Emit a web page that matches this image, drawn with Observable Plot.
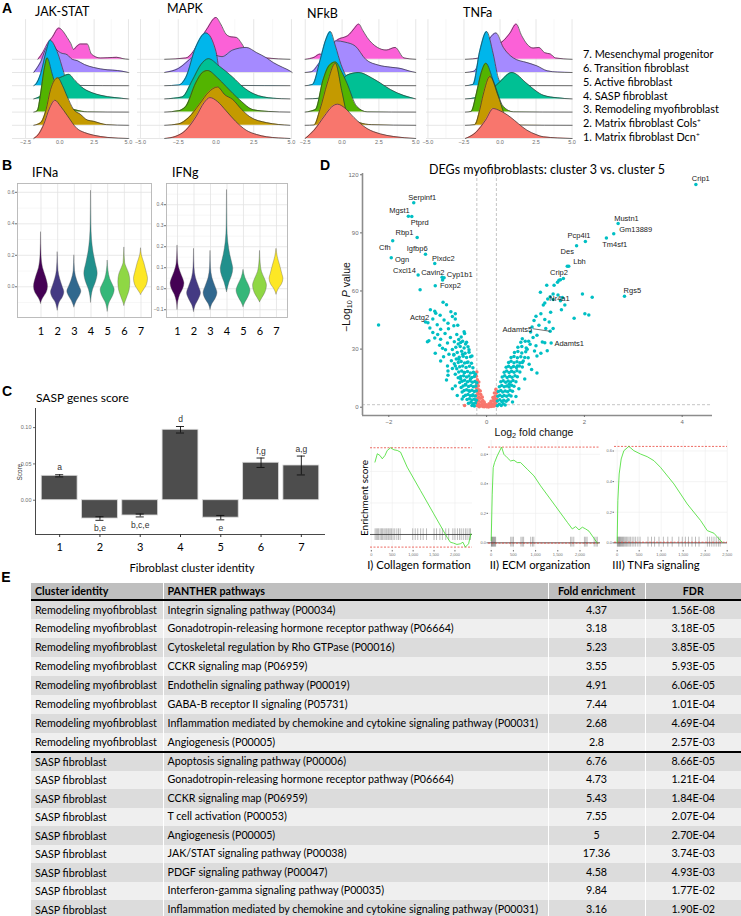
<!DOCTYPE html>
<html><head><meta charset="utf-8">
<script src="https://cdn.jsdelivr.net/npm/d3@7"></script>
<script src="https://cdn.jsdelivr.net/npm/@observablehq/plot@0.6"></script>
<style>
html,body{margin:0;padding:0;background:#fff;}
#root{position:relative;width:741px;height:916px;overflow:hidden;background:#fff;}
.t{position:absolute;white-space:nowrap;line-height:1;}
.t sup{font-size:0.6em;vertical-align:0.6em;line-height:0;}
.t sub{font-size:0.7em;vertical-align:-0.35em;line-height:0;}
table.e{position:absolute;left:31px;top:583px;width:710px;border-collapse:collapse;table-layout:fixed;font-family:Lato,sans-serif;font-size:10.7px;color:#000;}
table.e td{padding:0 0 0 4px;white-space:nowrap;overflow:hidden;border-left:1.5px solid #fff;line-height:1;}
table.e td:first-child{border-left:none;}
table.e td.c{text-align:center;padding:0;}
</style></head>
<body><div id="root"></div>
<script>
// ---------------- DATA ----------------
const clusterNames = ["1. Matrix fibroblast Dcn<sup>+</sup>","2. Matrix fibroblast Cols<sup>+</sup>","3. Remodeling myofibroblast","4. SASP fibroblast","5. Active fibroblast","6. Transition fibroblast","7. Mesenchymal progenitor"];
const ridgeColors = ["#F8766D","#C49A00","#53B400","#00C094","#00B6EB","#A58AFF","#FB61D7"];
const pathwayTitles = ["JAK-STAT","MAPK","NFkB","TNFa"];

// density ridges: per cluster 1..7, [score, density (row units)]
const jakStatDensity = [
 [[-1.9,0],[-1.5,0.4],[-1.16,1.1],[-0.75,2.3],[-0.36,2.9],[0.05,2.45],[0.53,1.76],[1.26,0.75],[1.8,0.45],[2.46,0.25],[3.5,0.08],[5,0]],
 [[-1.9,0],[-1.4,0.2],[-1.0,1.2],[-0.68,2.7],[-0.15,3.6],[0.2,3.0],[0.53,2.2],[1.0,1.2],[1.5,0.83],[2.0,0.4],[2.46,0.3],[3.4,0.05],[5,0]],
 [[-1.9,0],[-1.64,0.1],[-1.4,1.4],[-1.15,3.2],[-0.92,4.1],[-0.56,2.9],[-0.07,1.2],[0.53,0.43],[1.2,0.15],[2,0.02],[5,0]],
 [[-1.9,0],[-1.5,0.15],[-1.16,0.4],[-0.7,1.0],[-0.2,1.5],[0.2,1.7],[0.65,1.86],[1.1,1.4],[1.74,0.78],[2.4,0.45],[2.95,0.28],[4,0.1],[5,0]],
 [[-1.9,0],[-1.76,0.1],[-1.4,0.9],[-1.0,2.6],[-0.72,3.45],[-0.2,2.6],[0.29,1.0],[0.53,0.25],[1.26,0.02],[5,0]],
 [[-1.9,0],[-1.4,0.8],[-0.9,2.0],[-0.5,2.1],[-0.3,1.8],[0.05,1.5],[0.53,1.35],[0.9,1.0],[1.26,0.9],[1.8,0.6],[2.46,0.38],[3.5,0.2],[4.2,0.15],[5,0]],
 [[-1.6,0],[-1.2,0.6],[-0.9,1.2],[-0.56,1.66],[-0.07,2.37],[0.25,2.1],[0.53,1.66],[0.8,1.2],[1.0,0.75],[1.25,1.0],[1.5,1.16],[2.0,1.16],[2.3,0.4],[2.95,0.1],[3.5,0.12],[4.15,0.15],[4.6,0.05],[5,0]]
];
const mapkDensity = [
 [[-3.4,0],[-2.7,0.15],[-2.0,0.63],[-1.3,1.7],[-0.8,2.7],[-0.4,3.1],[0.1,2.8],[0.67,2.1],[1.3,1.3],[2.0,0.63],[2.7,0.3],[3.36,0.13],[4.9,0]],
 [[-3.4,0],[-2.5,0.1],[-1.8,0.6],[-1.1,1.6],[-0.5,2.5],[0.1,2.9],[0.6,2.3],[1.1,1.96],[1.7,1.2],[2.24,0.65],[3.36,0.2],[4.9,0]],
 [[-3.4,0],[-2.5,0.1],[-2.0,0.43],[-1.35,2.2],[-0.9,3.0],[-0.56,3.15],[0.1,2.6],[0.67,1.94],[1.57,0.93],[2.47,0.18],[3.5,0.05],[4.9,0]],
 [[-3.4,0],[-2.24,0.15],[-1.57,1.4],[-1.0,2.6],[-0.5,3.05],[0.2,2.5],[1.1,1.66],[1.8,0.9],[2.47,0.4],[3.8,0.05],[4.9,0]],
 [[-3.4,0],[-2.47,0.05],[-2.0,0.63],[-1.35,2.9],[-0.67,4.0],[0.0,2.6],[0.34,0.4],[1.1,0.2],[1.57,0.02],[4.9,0]],
 [[-3.4,0],[-2.5,0.3],[-1.5,1.2],[-0.8,1.6],[0.0,1.3],[0.4,1.2],[1.1,1.7],[2.0,1.9],[2.7,1.5],[3.36,1.1],[3.8,0.75],[4.4,0.4],[4.9,0.12],[5.05,0]],
 [[-3.4,0],[-2.0,0.1],[-1.5,0.6],[-1.1,1.4],[-0.6,2.3],[0.0,3.17],[0.3,2.7],[0.67,1.9],[1.0,1.7],[1.35,1.66],[1.7,1.2],[2.0,0.65],[2.7,0.3],[3.36,0.1],[4.9,0]]
];
const nfkbDensity = [
 [[-2.5,0],[-1.9,0.63],[-1.2,1.7],[-0.7,2.4],[-0.32,2.6],[0.2,2.3],[0.8,1.6],[1.7,0.75],[2.6,0.35],[3.5,0.15],[5,0]],
 [[-2.5,0],[-1.9,0.02],[-1.5,1.2],[-1.0,3.2],[-0.46,4.7],[0.0,2.5],[0.33,0.96],[1.2,0.2],[2.0,0.05],[5,0]],
 [[-2.5,0],[-1.8,0.2],[-1.3,2.4],[-0.9,3.5],[-0.46,3.8],[0.0,3.0],[0.33,2.2],[1.0,0.43],[1.7,0.02],[5,0]],
 [[-2.5,0],[-1.5,0.05],[-0.8,0.3],[-0.4,0.65],[0.33,1.8],[1.13,2.0],[2.0,1.6],[2.6,1.2],[3.3,0.7],[4.2,0.25],[5,0]],
 [[-2.5,0],[-2.0,0.1],[-1.5,1.9],[-1.1,3.5],[-0.8,4.1],[-0.45,3.0],[-0.07,1.6],[0.33,0.63],[1.0,0.02],[5,0]],
 [[-2.5,0],[-2.1,0.05],[-1.5,0.8],[-0.8,1.9],[-0.4,2.4],[0.2,2.3],[0.9,2.0],[1.6,1.0],[2.5,0.55],[3.3,0.4],[4.0,0.3],[4.6,0.1],[5,0]],
 [[-2.5,0],[-1.9,0.15],[-1.5,0.4],[-1.2,0.3],[-0.8,0.9],[-0.4,1.4],[0.5,1.9],[0.8,2.3],[1.13,2.67],[1.4,2.2],[1.7,1.66],[2.4,0.9],[3.0,0.7],[3.6,0.9],[4.2,0.1],[5,0]]
];
const tnfaDensity = [
 [[-2.4,0],[-1.64,0.5],[-1.0,1.4],[-0.47,2.27],[0.0,2.1],[0.7,1.64],[1.3,1.1],[1.87,0.63],[2.5,0.3],[3.0,0.13],[5,0]],
 [[-2.4,0],[-1.75,0.05],[-1.4,1.2],[-1.17,2.3],[-0.7,3.7],[-0.12,2.2],[0.47,0.45],[1.17,0.02],[5,0]],
 [[-2.4,0],[-2.0,0.05],[-1.64,1.4],[-1.3,3.0],[-0.98,3.7],[-0.47,2.4],[0.23,0.43],[0.93,0.02],[5,0]],
 [[-2.4,0],[-1.6,0.1],[-1.17,0.3],[-0.5,0.8],[0.0,1.3],[0.82,2.0],[1.87,1.16],[2.5,0.6],[3.0,0.28],[4.0,0.08],[5,0]],
 [[-2.4,0],[-1.87,0.1],[-1.4,2.65],[-0.93,4.1],[-0.47,2.4],[-0.12,0.6],[0.23,0.02],[5,0]],
 [[-2.4,0],[-1.8,0.1],[-1.2,1.5],[-0.7,2.6],[-0.28,3.0],[0.23,1.9],[0.93,1.1],[1.87,0.75],[2.57,0.5],[3.27,0.13],[4,0.03],[5,0]],
 [[-2.4,0],[-1.4,0.1],[-0.7,0.9],[0.23,1.4],[0.7,2.0],[1.12,2.67],[1.5,1.8],[1.87,1.16],[2.3,0.85],[2.7,0.9],[3.1,0.5],[3.5,0.4],[3.85,0.1],[5,0]]
];

// violins: per cluster 1..7, [score, half width]
const viridis7 = ["#440154","#443A83","#31688E","#21908C","#35B779","#8FD744","#FDE725"];
const ifnaViolins = [
 [[0.347,0],[0.2,0.03],[0.12,0.12],[0.06,0.3],[0.0,0.42],[-0.04,0.33],[-0.07,0.15],[-0.09,0.05],[-0.108,0]],
 [[0.22,0],[0.1,0.05],[0.05,0.15],[0.0,0.3],[-0.035,0.4],[-0.07,0.3],[-0.1,0.12],[-0.13,0.04],[-0.15,0]],
 [[0.2,0],[0.1,0.04],[0.04,0.17],[0.0,0.32],[-0.03,0.42],[-0.06,0.32],[-0.09,0.15],[-0.115,0.05],[-0.13,0]],
 [[0.61,0],[0.4,0.02],[0.3,0.06],[0.22,0.15],[0.15,0.28],[0.085,0.4],[0.03,0.3],[-0.02,0.12],[-0.06,0.04],[-0.1,0]],
 [[0.167,0],[0.1,0.05],[0.05,0.15],[0.01,0.32],[-0.02,0.42],[-0.06,0.32],[-0.1,0.12],[-0.13,0.04],[-0.157,0]],
 [[0.25,0],[0.15,0.05],[0.12,0.15],[0.08,0.3],[0.03,0.36],[-0.02,0.32],[-0.06,0.2],[-0.1,0.06],[-0.12,0]],
 [[0.245,0],[0.2,0.05],[0.15,0.2],[0.1,0.32],[0.05,0.42],[0.01,0.35],[-0.02,0.18],[-0.04,0.06],[-0.05,0]]
];
const ifngViolins = [
 [[0.206,0],[0.12,0.05],[0.08,0.18],[0.05,0.33],[0.025,0.42],[0.0,0.35],[-0.03,0.16],[-0.06,0.05],[-0.1,0]],
 [[0.19,0],[0.1,0.03],[0.05,0.12],[0.01,0.3],[-0.022,0.42],[-0.05,0.3],[-0.08,0.1],[-0.11,0]],
 [[0.18,0],[0.1,0.03],[0.05,0.12],[0.01,0.3],[-0.02,0.42],[-0.05,0.3],[-0.075,0.1],[-0.1,0]],
 [[0.47,0],[0.3,0.02],[0.22,0.08],[0.16,0.2],[0.12,0.32],[0.095,0.38],[0.06,0.3],[0.03,0.15],[0.0,0.05],[-0.016,0]],
 [[0.09,0],[0.05,0.12],[0.02,0.3],[-0.01,0.42],[-0.04,0.3],[-0.065,0.12],[-0.087,0]],
 [[0.18,0],[0.12,0.04],[0.08,0.12],[0.05,0.28],[0.015,0.42],[-0.02,0.32],[-0.045,0.14],[-0.064,0]],
 [[0.19,0],[0.15,0.08],[0.11,0.22],[0.07,0.35],[0.048,0.42],[0.02,0.33],[0.0,0.15],[-0.027,0]]
];

// SASP score bars
const saspCluster = [1,2,3,4,5,6,7];
const saspScore = [0.0336,-0.0252,-0.0210,0.0970,-0.0240,0.0516,0.0478];
const saspSE = [0.0015,0.0025,0.0020,0.0045,0.0030,0.0065,0.0130];
const saspLetters = ["a","b,e","b,c,e","d","e","f,g","a,g"];

// volcano
const geneNames = ["Crip1","Serpinf1","Mgst1","Ptprd","Rbp1","Cfh","Igfbp6","Ogn","Plxdc2","Cxcl14","Cavin2","Cyp1b1","Foxp2","Actg2","Mustn1","Gm13889","Tm4sf1","Pcp4l1","Des","Lbh","Crip2","Rgs5","Nr4a1","Adamts5","Adamts1"];
const geneLog2FC = [4.28,-1.49,-1.60,-1.53,-1.42,-1.92,-1.25,-1.95,-1.06,-1.40,-0.91,-0.87,-1.05,-1.20,2.69,2.60,2.45,2.02,1.84,1.65,1.51,2.82,1.36,1.30,1.32];
const geneLogP = [115.0,105.5,98.6,98.5,87.6,85.9,79.0,77.1,74.2,68.3,67.1,66.8,62.7,43.6,94.8,89.5,87.3,85.5,83.3,72.8,65.8,57.3,55.6,39.2,33.2];
const geneLabelX = [4.38,-1.315,-1.78,-1.37,-1.68,-2.08,-1.42,-1.73,-0.885,-1.68,-1.10,-0.55,-0.74,-1.37,2.86,3.05,2.62,1.89,1.65,1.90,1.48,2.98,1.49,0.63,1.69];
const geneLabelY = [117.9,108.1,101.5,95.2,90.0,82.6,81.8,76.1,76.8,70.6,69.7,68.4,62.8,46.2,97.4,91.6,84.2,88.5,80.5,75.2,69.5,60.1,56.0,40.1,32.9];
const downGenes = [[-0.9,65.7],[-1.36,60.6],[-2.21,42.5],
 [-0.89,54.2],[-0.82,52.9],[-1.15,50.3],[-1.06,49.6],[-1.04,48.5],[-0.73,49.3],[-0.64,48.2],[-0.70,46.8],[-0.64,45.6],[-0.79,43.3],[-1.01,42.6],[-1.16,40.9],[-1.10,38.6],[-0.94,40.3],[-0.67,42.0],[-0.59,42.3],[-0.46,38.9],[-0.74,36.0],[-0.94,35.1],[-1.18,34.3],[-1.21,33.8],[-1.06,35.7],[-0.96,32.0],[-0.80,33.1],[-0.84,29.6],[-1.05,27.9],[-0.77,27.4],[-0.53,33.4],[-0.43,32.6],[-0.67,26.9],[-0.57,24.8],[-0.94,23.9],[-0.80,21.3],[-0.64,21.3],[-0.79,18.7],[-0.79,16.5],[-0.64,17.0],[-0.46,17.9],[-0.53,14.5],[-0.64,11.0],[-0.43,11.9],[-0.36,8.5],[-0.29,5.9],[-0.50,4.2],[-0.33,14.5],[-0.27,17.9],[-0.40,23.1],[-0.30,26.5],[-0.36,29.6],[-0.49,27.4],
 [-1.1,45.5],[-1.25,44.0],[-0.87,45.0],[-0.95,47.5],[-0.85,38.0],[-1.0,37.5],[-0.9,30.5],[-0.72,24.0],[-0.88,26.0],[-0.7,20.0],[-0.82,14.0],[-0.7,9.5],[-0.6,6.0],[-0.78,40.5],
 [-0.61,37.5],[-0.52,36.2],[-0.45,38.1],[-0.57,35.0],[-0.66,33.8],[-0.49,34.1],[-0.41,33.5],[-0.58,32.6],
 [-0.63,30.9],[-0.54,31.4],[-0.46,30.6],[-0.38,31.2],[-0.7,29.8],[-0.6,28.3],[-0.51,28.9],[-0.44,27.8],[-0.36,28.4],[-0.67,27.2],
 [-0.56,25.8],[-0.48,26.3],[-0.41,25.6],[-0.33,26.0],[-0.62,24.9],[-0.58,23.1],[-0.52,23.6],[-0.45,22.8],[-0.38,23.4],[-0.31,22.7],[-0.66,22.4],
 [-0.55,20.9],[-0.49,21.3],[-0.42,20.5],[-0.35,21.1],[-0.28,20.4],[-0.61,19.8],[-0.57,18.2],[-0.51,18.7],[-0.45,17.9],[-0.39,18.4],[-0.33,17.6],[-0.27,18.1],[-0.23,17.0],
 [-0.53,15.9],[-0.47,16.3],[-0.41,15.6],[-0.36,16.1],[-0.3,15.3],[-0.25,15.8],[-0.58,15.2],[-0.5,13.4],[-0.45,13.9],[-0.39,13.1],[-0.34,13.6],[-0.29,12.9],[-0.24,13.3],[-0.2,12.6],[-0.55,12.8],
 [-0.48,11.0],[-0.43,11.5],[-0.37,10.7],[-0.32,11.2],[-0.27,10.5],[-0.22,10.9],[-0.52,10.2],[-0.46,8.6],[-0.41,9.0],[-0.35,8.3],[-0.3,8.8],[-0.25,8.1],[-0.21,8.5],[-0.5,7.9],
 [-0.43,6.2],[-0.38,6.6],[-0.33,5.9],[-0.28,6.4],[-0.23,5.8],[-0.47,5.5],[-0.4,4.0],[-0.35,4.4],[-0.3,3.7],[-0.25,4.1],[-0.21,3.6],[-0.37,2.1],[-0.32,2.5],[-0.27,1.8],[-0.23,2.2],[-0.3,0.9],[-0.25,0.6]];
const upGenes = [[1.68,72.8],[1.45,64.5],[1.3,57.0],
 [1.10,59.4],[1.36,58.5],[1.19,53.8],[1.16,52.7],[1.25,55.9],[1.46,57.9],[1.55,56.6],[1.60,52.8],[1.51,54.9],[1.38,62.9],[1.23,62.9],[1.48,65.5],[1.57,66.4],[1.96,58.5],[2.16,56.8],[1.79,45.9],[2.01,48.2],[2.09,47.6],[1.53,50.3],[1.31,49.0],[1.11,48.2],[1.01,47.0],[1.19,45.3],[0.97,44.8],[1.28,44.0],[1.07,42.3],[1.21,40.6],[1.36,40.6],[0.93,41.4],[0.90,38.8],[0.73,35.4],[1.03,37.1],[1.14,33.7],[1.19,33.3],[0.89,32.5],[1.01,31.7],[1.24,29.1],[1.11,27.9],[0.83,29.9],[1.03,26.5],[1.03,17.6],[0.87,22.2],[0.73,23.1],[0.63,21.3],[0.53,2.7],[0.46,11.9],
 [0.95,36.0],[0.85,25.5],[0.92,19.5],[0.78,14.5],[0.66,9.5],[0.6,5.5],[0.86,34.0],[0.98,29.0],
 [0.22,0.8],[0.26,1.5],[0.3,0.9],[0.34,1.8],[0.38,1.2],[0.22,3.2],[0.27,3.8],[0.31,3.0],[0.35,3.6],[0.4,3.1],[0.44,3.9],
 [0.23,5.6],[0.27,6.2],[0.32,5.5],[0.36,6.1],[0.41,5.7],[0.46,6.3],[0.5,5.8],[0.24,8.1],[0.29,8.6],[0.33,7.9],[0.38,8.4],[0.43,8.0],[0.48,8.7],[0.53,8.2],
 [0.26,10.6],[0.31,11.2],[0.36,10.5],[0.41,11.0],[0.46,10.4],[0.51,11.3],[0.56,10.8],[0.29,13.1],[0.34,13.7],[0.39,12.9],[0.44,13.5],[0.49,13.0],[0.54,13.8],[0.6,13.2],
 [0.32,15.6],[0.37,16.2],[0.42,15.4],[0.47,16.0],[0.52,15.5],[0.58,16.3],[0.63,15.7],[0.36,18.1],[0.41,18.7],[0.46,17.9],[0.51,18.5],[0.56,18.0],[0.62,18.8],[0.68,18.2],
 [0.4,20.6],[0.45,21.2],[0.5,20.4],[0.55,21.0],[0.61,20.5],[0.67,21.3],[0.73,20.8],[0.45,23.1],[0.5,23.7],[0.56,22.9],[0.62,23.5],[0.68,23.0],[0.75,23.8],
 [0.5,25.7],[0.56,26.2],[0.63,25.5],[0.7,26.1],[0.78,25.6],[0.57,28.2],[0.64,28.8],[0.72,28.0],[0.8,28.6],[0.64,30.9],[0.72,31.4],[0.81,30.6],[0.7,33.5],[0.79,34.1]];
const nonSigGenes = [[-0.2,18.2],[-0.21,16.0],[-0.19,14.1],[-0.2,12.0],[-0.21,10.1],[-0.19,8.2],[-0.2,6.3],[-0.19,4.4],[-0.2,2.5],[-0.19,0.8],
 [-0.16,13.0],[-0.17,11.0],[-0.16,9.0],[-0.17,7.1],[-0.16,5.2],[-0.17,3.3],[-0.16,1.4],[-0.15,0.3],[-0.13,8.4],[-0.12,6.5],[-0.13,4.6],[-0.12,2.7],[-0.13,0.9],
 [-0.09,5.2],[-0.08,3.4],[-0.09,1.6],[-0.08,0.4],[-0.05,2.6],[-0.04,1.2],[-0.05,0.2],[-0.01,1.3],[0.0,0.3],[0.02,0.9],[0.05,1.8],[0.06,0.5],[0.04,0.1],
 [0.09,3.0],[0.1,1.6],[0.09,0.4],[0.13,5.0],[0.13,3.3],[0.14,1.6],[0.13,0.5],[0.16,7.3],[0.17,5.5],[0.16,3.8],[0.17,2.1],[0.16,0.7],
 [0.19,9.2],[0.2,7.5],[0.19,5.8],[0.2,4.1],[0.19,2.4],[0.2,0.9],[-0.45,0.9]];

// GSEA running enrichment scores [rank, ES] and hit ranks
const collagenES = [[87,0.459],[143,0.512],[206,0.501],[262,0.480],[326,0.501],[381,0.533],[461,0.550],[540,0.537],[619,0.533],[699,0.522],[858,0.427],[1175,0.279],[1493,0.131],[1810,-0.017],[1890,-0.049],[1969,-0.055],[2048,-0.063],[2128,-0.059],[2191,-0.049],[2247,-0.080],[2326,-0.059],[2382,0.004]];
const collagenHits = [90,120,150,175,210,240,265,300,330,360,395,420,450,480,520,560,610,650,690,990,1050,1110,1180,1240,1320,1500,1560,1640,1700,1780,1850,1950,2000,2060,2110,2150,2200,2250,2290,2340,2370];
const ecmES = [[0,0.016],[23,0.33],[45,0.51],[75,0.544],[135,0.589],[233,0.649],[286,0.60],[361,0.577],[436,0.555],[511,0.56],[587,0.544],[662,0.544],[812,0.499],[963,0.454],[1113,0.386],[1414,0.263],[1715,0.139],[1827,0.094],[1903,0.11],[1978,0.088],[2053,0.106],[2128,0.094],[2203,0.079],[2391,-0.002]];
const ecmHits = [5,15,25,40,55,70,85,100,440,470,500,670,700,730,890,930,960,1790,1820,1860,2100,2130,2160,2320,2360,2390];
const tnfES = [[0,0.004],[15,0.276],[45,0.45],[91,0.548],[152,0.602],[265,0.630],[379,0.602],[531,0.580],[682,0.563],[834,0.537],[985,0.493],[1289,0.385],[1592,0.254],[1895,0.146],[2047,0.080],[2198,0.063],[2350,0.015],[2388,0.004]];
const tnfHits = [5,20,35,50,65,80,100,120,140,160,185,210,240,270,300,340,380,420,470,520,700,780,850,950,1050,1150,1250,1400,1480,1550,1620,1700,1780,1860,2050,2100,2150,2200,2250,2300,2340];
const gseaCaptions = ["I) Collagen formation","II) ECM organization","III) TNFa signaling"];

// table E
const tableHeader = ["Cluster identity","PANTHER pathways","Fold enrichment","FDR"];
const remodelingPathways = ["Integrin signaling pathway (P00034)","Gonadotropin-releasing hormone receptor pathway (P06664)","Cytoskeletal regulation by Rho GTPase (P00016)","CCKR signaling map (P06959)","Endothelin signaling pathway (P00019)","GABA-B receptor II signaling (P05731)","Inflammation mediated by chemokine and cytokine signaling pathway (P00031)","Angiogenesis (P00005)"];
const remodelingFold = [4.37,3.18,5.23,3.55,4.91,7.44,2.68,2.8];
const remodelingFDR = ["1.56E-08","3.18E-05","3.85E-05","5.93E-05","6.06E-05","1.01E-04","4.69E-04","2.57E-03"];
const saspPathways = ["Apoptosis signaling pathway (P00006)","Gonadotropin-releasing hormone receptor pathway (P06664)","CCKR signaling map (P06959)","T cell activation (P00053)","Angiogenesis (P00005)","JAK/STAT signaling pathway (P00038)","PDGF signaling pathway (P00047)","Interferon-gamma signaling pathway (P00035)","Inflammation mediated by chemokine and cytokine signaling pathway (P00031)"];
const saspFold = [6.76,4.73,5.43,7.55,5,17.36,4.58,9.84,3.16];
const saspFDR = ["8.66E-05","1.21E-04","1.84E-04","2.07E-04","2.70E-04","3.74E-03","4.93E-03","1.77E-02","1.90E-02"];

// ---------------- HELPERS ----------------
const root = document.getElementById("root");
function place(svg, left, top){
  const w = document.createElement("div");
  w.style.cssText = `position:absolute;left:${left}px;top:${top}px;`;
  w.appendChild(svg); root.appendChild(w);
}
function txt(html, x, y, o = {}){
  const d = document.createElement("div");
  d.className = "t"; d.innerHTML = html;
  const tx = o.anchor === "start" ? "0" : (o.anchor === "end" ? "-100%" : "-50%");
  d.style.left = x + "px"; d.style.top = y + "px";
  d.style.transform = `translate(${tx},-50%)` + (o.rotate ? ` rotate(${o.rotate}deg)` : "");
  d.style.fontFamily = o.font || "Lato, sans-serif";
  d.style.fontSize = (o.size || 12) + "px";
  d.style.fontWeight = o.weight || "normal";
  d.style.color = o.color || "#000";
  root.appendChild(d);
}
const baseStyle = {background:"transparent", overflow:"visible", fontFamily:"'Liberation Sans', Arial, sans-serif", fontSize:"6px", color:"#6e6e6e"};

// ---------------- A: ridgelines ----------------
function ridgePanel(density, domain, left, width){
  const inDom = v => v >= domain[0] - 1e-9 && v <= domain[1] + 1e-9;
  const major = [-5,-2.5,0,2.5,5].filter(inDom);
  const minor = [-3.75,-1.25,1.25,3.75].filter(inDom);
  const marks = [
    Plot.ruleX(minor, {stroke:"#f1f1f1", strokeWidth:0.6}),
    Plot.ruleX(major, {stroke:"#e0e0e0", strokeWidth:0.8}),
    Plot.ruleY(d3.range(7), {stroke:"#e0e0e0", strokeWidth:0.8})
  ];
  for (let i = 6; i >= 0; i--){
    const pts = density[i].map(([x,h]) => ({x, base:i, top:i + h}));
    marks.push(Plot.areaY(pts, {x:"x", y1:"base", y2:"top", fill:ridgeColors[i], curve:"monotone-x"}));
    marks.push(Plot.lineY(pts, {x:"x", y:"top", stroke:"#333", strokeWidth:0.7, curve:"monotone-x"}));
  }
  marks.push(Plot.axisX(major, {tickSize:0, tickPadding:2, tickFormat:d3.format(".1f"), fontSize:5.5, label:null}));
  place(Plot.plot({width, height:150, marginLeft:0, marginRight:0, marginTop:19.2, marginBottom:12,
    x:{domain}, y:{domain:[0,9], axis:null}, style:baseStyle, marks}), left, 0);
}
ridgePanel(jakStatDensity, [-3.45,5.15], 12, 118);
ridgePanel(mapkDensity, [-5.2,5.07], 137, 155);
ridgePanel(nfkbDensity, [-2.55,5.05], 304, 112);
ridgePanel(tnfaDensity, [-5.1,5.1], 426, 147);
txt(pathwayTitles[0], 35, 12, {anchor:"start", size:12.5});
txt(pathwayTitles[1], 167, 8.5, {anchor:"start", size:12.5});
txt(pathwayTitles[2], 307, 13.5, {anchor:"start", size:12.5});
txt(pathwayTitles[3], 463, 12.5, {anchor:"start", size:12.5});
clusterNames.forEach((n,i) => txt(n, 583, 137 - 13.8*i, {anchor:"start", size:10.9}));

// ---------------- B: violins ----------------
function violinPanel(shapes, yDomain, yTicks, yMinor, xDomain, left, width, mL, mR){
  const marks = [
    Plot.ruleY(yMinor, {stroke:"#f2f2f2", strokeWidth:0.6}),
    Plot.ruleY(yTicks, {stroke:"#e3e3e3", strokeWidth:0.8}),
    Plot.ruleX(saspCluster, {stroke:"#e3e3e3", strokeWidth:0.8})
  ];
  shapes.forEach((s,i) => {
    const k = saspCluster[i];
    const pts = s.map(([y,hw]) => ({y, x1:k - hw, x2:k + hw})).sort((a,b) => a.y - b.y);
    marks.push(Plot.areaX(pts, {y:"y", x1:"x1", x2:"x2", fill:viridis7[i], stroke:"#555", strokeWidth:0.35, curve:"monotone-y"}));
  });
  marks.push(Plot.frame({stroke:"#b5b5b5", strokeWidth:0.9}));
  marks.push(Plot.axisX(saspCluster, {tickSize:0, tickPadding:10, fontSize:11, fontFamily:"Lato", fill:"#000", label:null}));
  marks.push(Plot.axisY(yTicks, {tickSize:2, tickPadding:1, tickFormat:d3.format(".1f"), fontSize:5, label:null}));
  place(Plot.plot({width, height:165, marginLeft:mL, marginRight:mR, marginTop:8, marginBottom:23,
    x:{domain:xDomain}, y:{domain:yDomain}, style:baseStyle, marks}), left, 175);
}
violinPanel(ifnaViolins, [-0.195,0.656], [0,0.2,0.4,0.6], [-0.1,0.1,0.3,0.5], [-0.41,7.63], 0, 155, 17, 4);
violinPanel(ifngViolins, [-0.137,0.501], [-0.1,0,0.1,0.2,0.3,0.4], [-0.05,0.05,0.15,0.25,0.35,0.45], [0.333,7.667], 150, 142, 16, 5);
txt("IFNa", 32, 173, {anchor:"start", size:12.5});
txt("IFNg", 172, 173, {anchor:"start", size:12.5});

// ---------------- C: SASP bars ----------------
{
  const bars = saspCluster.map((k,i) => ({k, v:saspScore[i], e:saspSE[i], lab:saspLetters[i]}));
  const xDom = [0.4,7.6], yDom = [-0.0472,0.1263];
  const svg = Plot.plot({width:330, height:162, marginLeft:35, marginRight:5, marginTop:10, marginBottom:26,
    x:{domain:xDom}, y:{domain:yDom}, style:baseStyle,
    marks:[
      Plot.rect(bars, {x1:d => d.k - 0.445, x2:d => d.k + 0.445, y1:0, y2:"v", fill:"#4d4d4d", stroke:"#dadada", strokeWidth:0.8}),
      Plot.ruleX(bars, {x:"k", y1:d => d.v - d.e, y2:d => d.v + d.e, stroke:"#111", strokeWidth:0.9}),
      Plot.ruleY(bars, {y:d => d.v + d.e, x1:d => d.k - 0.1, x2:d => d.k + 0.1, stroke:"#111", strokeWidth:0.9}),
      Plot.ruleY(bars, {y:d => d.v - d.e, x1:d => d.k - 0.1, x2:d => d.k + 0.1, stroke:"#111", strokeWidth:0.9}),
      Plot.text(bars.filter(d => d.v > 0), {x:"k", y:d => d.v + d.e, text:"lab", dy:-7, fontSize:8.5, fill:"#333"}),
      Plot.text(bars.filter(d => d.v < 0), {x:"k", y:d => d.v - d.e, text:"lab", dy:8, fontSize:8.5, fill:"#333"}),
      Plot.ruleX([xDom[0]], {stroke:"#333", strokeWidth:0.9}),
      Plot.ruleY([yDom[0]], {stroke:"#333", strokeWidth:0.9}),
      Plot.axisX(saspCluster, {tickSize:3, tickPadding:6, fontSize:11, fontFamily:"Lato", fill:"#000", stroke:"#333", label:null}),
      Plot.axisY([0,0.05,0.1], {tickSize:2, tickPadding:2, tickFormat:d3.format(".2f"), fontSize:5.5, label:null})
    ]});
  place(svg, 0, 398);
  txt("SASP genes score", 36, 397.5, {anchor:"start", size:12});
  txt("Score", 20, 472, {rotate:-90, size:6.5, font:"'Liberation Sans', Arial, sans-serif", color:"#333"});
  txt("Fibroblast cluster identity", 192, 568, {size:11.2});
}

// ---------------- D: volcano ----------------
{
  const genes = geneNames.map((n,i) => ({n, x:geneLog2FC[i], y:geneLogP[i], lx:geneLabelX[i], ly:geneLabelY[i]}));
  const xDom = [-2.538,4.62], yDom = [-4.28,120.65];
  const pt = d => ({x:d[0], y:d[1]});
  const a5 = genes.find(g => g.n === "Adamts5");
  const svg = Plot.plot({width:380, height:280, marginLeft:22, marginRight:8, marginTop:23, marginBottom:15,
    x:{domain:xDom}, y:{domain:yDom}, style:baseStyle,
    marks:[
      Plot.ruleX([-0.2,0.2], {stroke:"#b5b5b5", strokeWidth:0.8, strokeDasharray:"3,2"}),
      Plot.ruleY([1.3], {stroke:"#b5b5b5", strokeWidth:0.8, strokeDasharray:"3,2"}),
      Plot.dot(nonSigGenes.map(pt), {x:"x", y:"y", r:1.8, fill:"#F8766D"}),
      Plot.dot(downGenes.map(pt), {x:"x", y:"y", r:1.75, fill:"#00BFC4"}),
      Plot.dot(upGenes.map(pt), {x:"x", y:"y", r:1.75, fill:"#00BFC4"}),
      Plot.dot(genes, {x:"x", y:"y", r:1.75, fill:"#00BFC4"}),
      Plot.link([a5], {x1:d => d.lx + 0.32, y1:d => d.ly + 0.4, x2:"x", y2:"y", stroke:"#333", strokeWidth:0.7}),
      Plot.text(genes, {x:"lx", y:"ly", text:"n", fontSize:7.5, fill:"#222"}),
      Plot.ruleX([xDom[0]], {stroke:"#8c8c8c", strokeWidth:1.6}),
      Plot.ruleY([yDom[0]], {stroke:"#8c8c8c", strokeWidth:1.6}),
      Plot.axisX([-2,0,2,4], {tickSize:2, tickPadding:2, fontSize:6, label:null}),
      Plot.axisY([0,30,60,90,120], {tickSize:2, tickPadding:2, fontSize:6, label:null})
    ]});
  place(svg, 340, 150);
  txt("DEGs myofibroblasts: cluster 3 vs. cluster 5", 547, 170, {size:12.5});
  txt("\u2212Log<sub>10</sub> <i>P</i> value", 346, 297, {rotate:-90, size:10.5, font:"'Liberation Sans', Arial, sans-serif", color:"#111"});
  txt("Log<sub>2</sub> fold change", 534, 432, {size:10.5, font:"'Liberation Sans', Arial, sans-serif", color:"#111"});
}

// ---------------- D: GSEA ----------------
function gseaPanel(es, hits, xDom, yDom, yTicks, hitRange, left, width, showY){
  const pts = es.map(([r,v]) => ({r, v}));
  const esMax = d3.max(es, d => d[1]), esMin = d3.min(es, d => d[1]);
  const rankTicks = [0,500,1000,1500,2000,2500].filter(v => v >= xDom[0] && v <= xDom[1]);
  const marks = [
    Plot.ruleX(rankTicks, {stroke:"#ececec", strokeWidth:0.6}),
    Plot.ruleY(yTicks, {stroke:"#ececec", strokeWidth:0.6}),
    Plot.ruleX(hits, {y1:hitRange[0], y2:hitRange[1], stroke:"#000", strokeOpacity:0.45, strokeWidth:0.6}),
    Plot.ruleY([0], {stroke:"#333", strokeWidth:0.8}),
    Plot.ruleY([esMax, esMin], {stroke:"#e8463c", strokeWidth:0.8, strokeDasharray:"2,1.5"}),
    Plot.line(pts, {x:"r", y:"v", stroke:"#3fdc2a", strokeWidth:0.8}),
    Plot.axisX(rankTicks, {tickSize:1.5, tickPadding:1, fontSize:4, label:null})
  ];
  if (showY) marks.push(Plot.axisY(yTicks, {tickSize:1.5, tickPadding:1, fontSize:4, tickFormat:d3.format(".1f"), label:null}));
  place(Plot.plot({width, height:124, marginLeft:10, marginRight:4, marginTop:4, marginBottom:10,
    x:{domain:xDom}, y:showY ? {domain:yDom} : {domain:yDom, axis:null}, style:baseStyle, marks}), left, 436);
}
gseaPanel(collagenES, collagenHits, [-20,2420], [-0.1015,0.596], [0,0.2,0.4], [-0.038,0.036], 360, 116, false);
gseaPanel(ecmES, ecmHits, [-61,2462], [-0.052,0.6936], [0,0.2,0.4,0.6], [-0.029,0.038], 478, 126, true);
gseaPanel(tnfES, tnfHits, [-61,2507], [-0.05,0.6686], [0,0.2,0.4,0.6], [-0.028,0.037], 604, 127, true);
txt("Enrichment score", 364, 498, {rotate:-90, size:10});
txt(gseaCaptions[0], 419, 565, {size:11.3});
txt(gseaCaptions[1], 540, 565, {size:11.3});
txt(gseaCaptions[2], 656, 565, {size:11.3});

// ---------------- E: table ----------------
{
  const tbl = document.createElement("table"); tbl.className = "e";
  let h = '<colgroup><col style="width:132px"><col style="width:385px"><col style="width:97px"><col style="width:96px"></colgroup>';
  h += `<tr style="height:17px;background:#bfbfbf;font-weight:bold;border-bottom:2px solid #000"><td>${tableHeader[0]}</td><td>${tableHeader[1]}</td><td class="c">${tableHeader[2]}</td><td class="c">${tableHeader[3]}</td></tr>`;
  remodelingPathways.forEach((p,i) => {
    h += `<tr style="height:19px;background:${i % 2 ? '#efefef' : '#dcdcdc'}"><td>Remodeling myofibroblast</td><td>${p}</td><td class="c">${remodelingFold[i]}</td><td class="c">${remodelingFDR[i]}</td></tr>`;
  });
  saspPathways.forEach((p,i) => {
    h += `<tr style="height:18.5px;background:${i % 2 ? '#efefef' : '#dcdcdc'};${i === 0 ? 'border-top:2px solid #000;' : ''}"><td style="padding-top:2px">SASP fibroblast</td><td>${p}</td><td class="c">${saspFold[i]}</td><td class="c">${saspFDR[i]}</td></tr>`;
  });
  tbl.innerHTML = h;
  root.appendChild(tbl);
}

// panel letters
[["A",7,8],["B",7,165],["C",7,391],["D",325,165],["E",6,577]].forEach(([l,x,y]) =>
  txt(l, x, y, {size:14, weight:"bold", font:"'Liberation Sans', Arial, sans-serif"}));
</script></body></html>
